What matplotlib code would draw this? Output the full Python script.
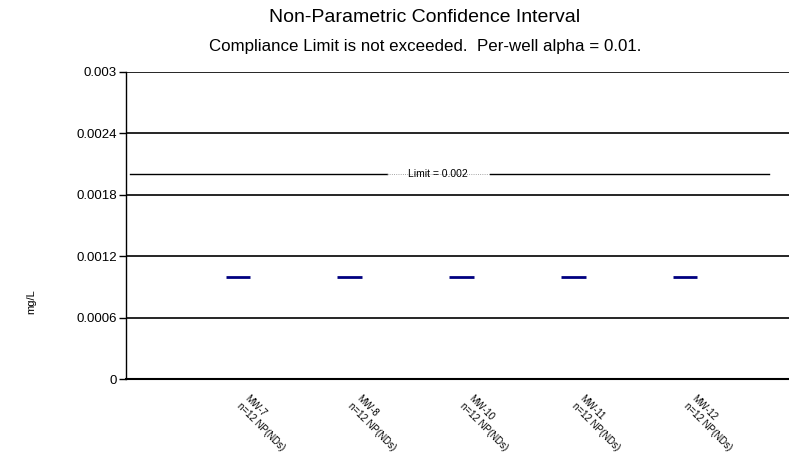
import numpy as np
import matplotlib.pyplot as plt
from matplotlib.transforms import ScaledTranslation

plt.rcParams['font.family'] = ['Liberation Sans', 'DejaVu Sans']

wells = ["MW-7", "MW-8", "MW-10", "MW-11", "MW-12"]
n_obs = [12, 12, 12, 12, 12]
upper = [0.001, 0.001, 0.001, 0.001, 0.001]
limit = 0.002
y_ticks = [0, 0.0006, 0.0012, 0.0018, 0.0024, 0.003]
y_labels = ["0", "0.0006", "0.0012", "0.0018", "0.0024", "0.003"]

fig = plt.figure(figsize=(7.89, 4.53), dpi=100)
ax = fig.add_axes([126/789, 74/453, 663/789, 307/453])

x = np.arange(1, len(wells) + 1)
ax.set_xlim(0, 5.93)
ax.set_ylim(0, 0.003)

# grid lines
for v in y_ticks[1:]:
    ax.axhline(v, color='black', lw=1.2, zorder=1)

# confidence interval dashes
ax.hlines(upper, x - 0.11, x + 0.11, color='#000080', lw=2, zorder=3)

# limit line broken around its label
ax.plot([0.036, 2.33], [limit, limit], color='black', lw=1, zorder=2)
ax.plot([3.26, 5.75], [limit, limit], color='black', lw=1, zorder=2)
ax.plot([2.33, 3.26], [limit, limit], color='#888888', lw=0.6, ls=':', zorder=2)
ax.text(2.79, limit, "Limit = 0.002", fontsize=7.5, ha='center', va='center',
        zorder=4)

ax.set_yticks(y_ticks)
ax.set_yticklabels(y_labels, fontsize=9.5)
ax.set_xticks(x)
ax.set_xticklabels(["%s\nn=%d NP(NDs)" % (w, n) for w, n in zip(wells, n_obs)],
                   fontsize=7, rotation=-45, ha='left', va='top',
                   rotation_mode='anchor')
ax.tick_params(axis='x', length=0, pad=10)
ax.tick_params(axis='y', length=5, width=1, pad=1.5)
shift = ScaledTranslation(12/100, 0, fig.dpi_scale_trans)
for lbl in ax.get_xticklabels():
    lbl.set_transform(lbl.get_transform() + shift)

ax.spines['top'].set_visible(False)
ax.spines['right'].set_visible(False)
ax.spines['left'].set_linewidth(1)
ax.spines['bottom'].set_linewidth(1.5)

fig.text(425/789, 1 - 17/453, "Non-Parametric Confidence Interval",
         fontsize=14, ha='center', va='center')
fig.text(425/789, 1 - 47/453,
         "Compliance Limit is not exceeded.  Per-well alpha = 0.01.",
         fontsize=12.2, ha='center', va='center')
fig.text(31/789, 1 - 302/453, "mg/L", fontsize=8, rotation=90,
         ha='center', va='center')

fig.savefig("out.png", dpi=100)
